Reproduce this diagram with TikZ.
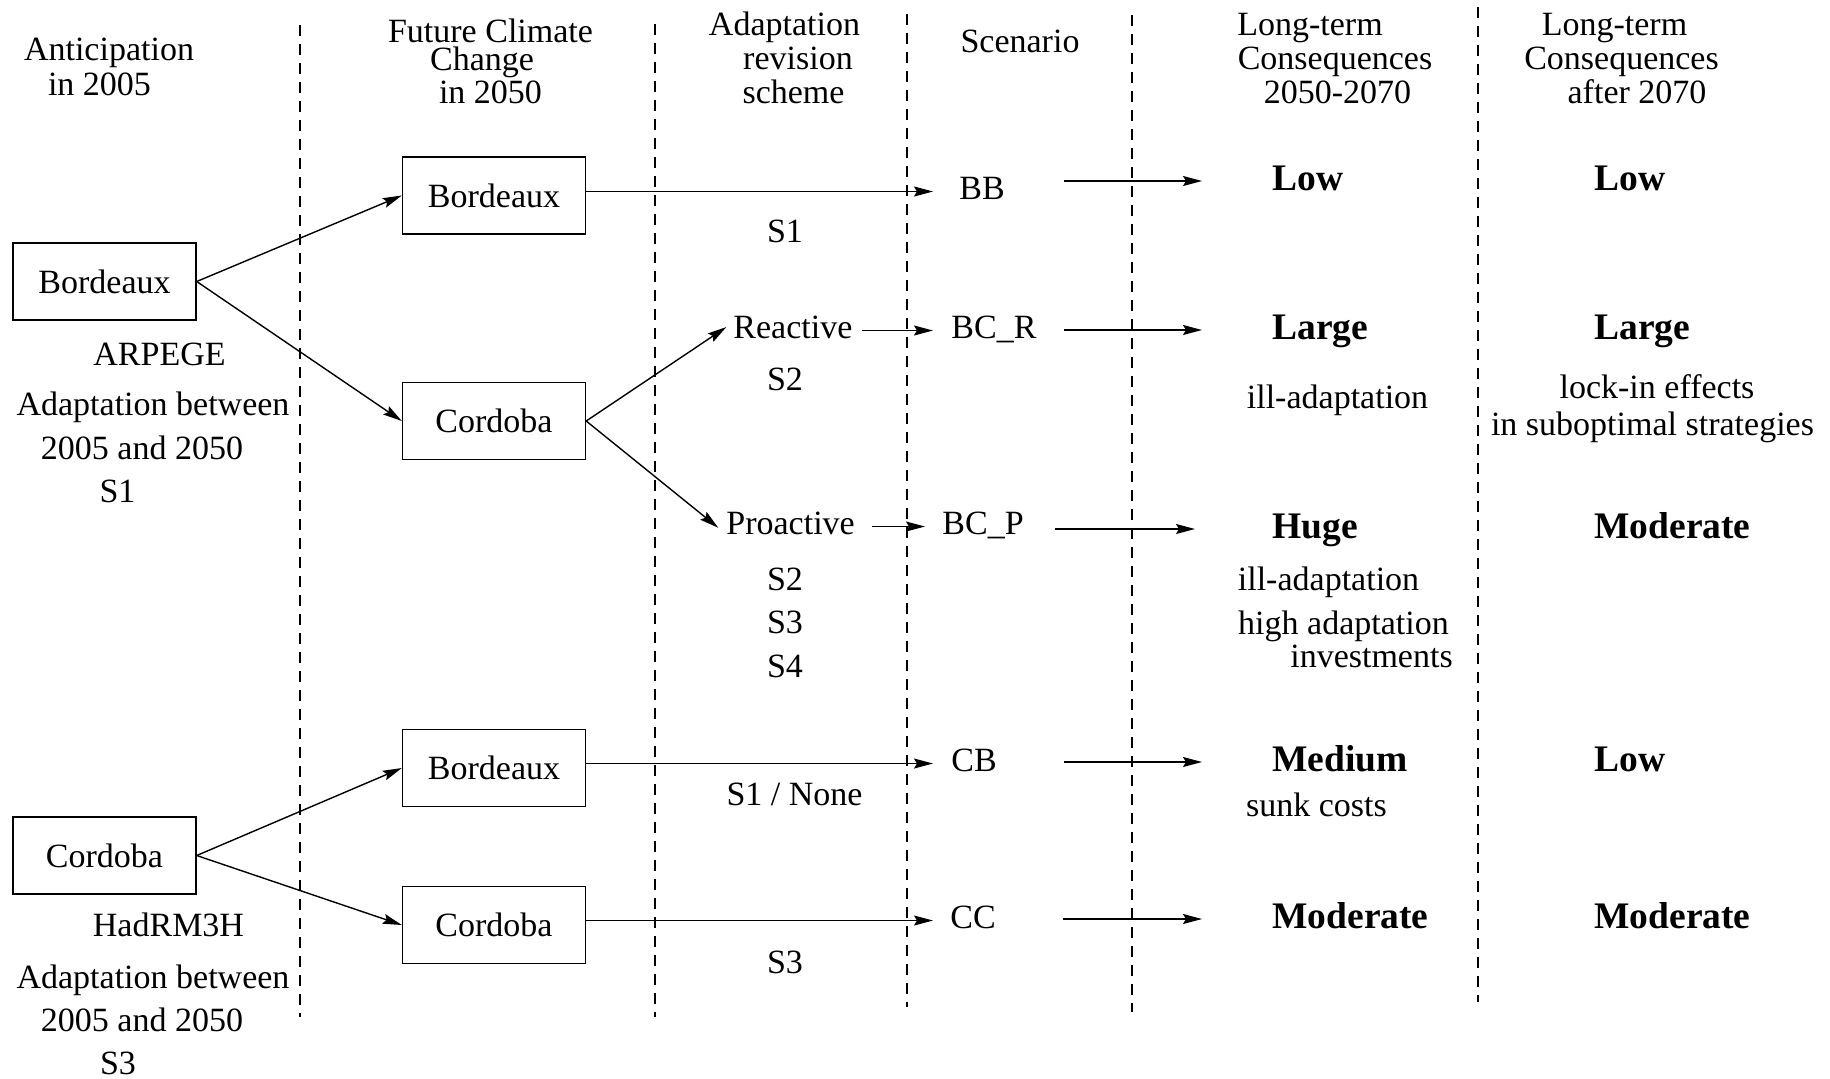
\documentclass[tikz,border=0pt]{standalone}
\usepackage{fontspec}
\setmainfont{Liberation Serif}
\usetikzlibrary{arrows.meta}
\begin{document}
\begin{tikzpicture}[x=0.5pt,y=-0.5pt,
  txt/.style={font=\fontsize{17pt}{20pt}\selectfont, inner sep=0pt, anchor=base},
  conseq/.style={font=\fontsize{18.75pt}{22pt}\selectfont\bfseries, inner sep=0pt, anchor=base west, text height=9pt, text depth=0pt},
  cbox/.style={draw, line width=0.7pt, minimum width=91.5pt, minimum height=38.5pt, inner sep=0pt, font=\fontsize{17pt}{20pt}\selectfont},
  scen/.style={font=\fontsize{17pt}{20pt}\selectfont, inner sep=0pt, anchor=base west, text height=7.5pt, text depth=0pt, text width=56pt, align=left},
  choice/.style={font=\fontsize{17pt}{20pt}\selectfont, inner sep=0pt, anchor=base west, text height=7.5pt, text depth=0pt},
  arr/.style={-{Stealth[length=9.5pt,width=5pt,inset=1.5pt]}, line width=0.7pt},
  colsep/.style={dash pattern=on 5.5pt off 4pt, line width=0.55pt}
]
\path[fill=white] (0,0) rectangle (1830,1078);

% column separators
\draw[colsep] (300,25) -- (300,1017);
\draw[colsep] (655,24) -- (655,1017);
\draw[colsep] (907,14) -- (907,1007);
\draw[colsep] (1132,15) -- (1132,1012);
\draw[colsep] (1478,7) -- (1478,1002);

% headers
\node[txt] (h1a) at (109,60) {Anticipation};
\node[txt] (h1b) at (99.5,95) {in 2005};
\node[txt] (h2a) at (490.5,42) {Future Climate};
\node[txt] (h2b) at (482,70) {Change};
\node[txt] (h2c) at (490.5,103) {in 2050};
\node[txt] (h3a) at (784.5,35) {Adaptation};
\node[txt] (h3b) at (798,69) {revision};
\node[txt] (h3c) at (793.5,103) {scheme};
\node[txt] (h4) at (1020,52) {Scenario};
\node[txt] (h5a) at (1310,35) {Long-term};
\node[txt] (h5b) at (1335,69) {Consequences};
\node[txt] (h5c) at (1337.5,103) {2050-2070};
\node[txt] (h6a) at (1614.5,35) {Long-term};
\node[txt] (h6b) at (1621.5,69) {Consequences};
\node[txt] (h6c) at (1637,103) {after 2070};

% boxes
\node[cbox] (L1) at (104.5,281.5) {Bordeaux};
\node[cbox] (L2) at (104.5,855.5) {Cordoba};
\node[cbox] (M1) at (494,195.5) {Bordeaux};
\node[cbox] (M2) at (494,421) {Cordoba};
\node[cbox] (M3) at (494,768) {Bordeaux};
\node[cbox] (M4) at (494,925) {Cordoba};

% left labels
\node[txt] (arp) at (159.5,365) {ARPEGE};
\node[txt] (ab1) at (153,415) {Adaptation between};
\node[txt] (ab1b) at (142,459) {2005 and 2050};
\node[txt] (s1l) at (117.5,502) {S1};
\node[txt] (had) at (168.5,936) {HadRM3H};
\node[txt] (ab2) at (153,988) {Adaptation between};
\node[txt] (ab2b) at (142,1031) {2005 and 2050};
\node[txt] (s3l) at (118,1074) {S3};

% revision scheme labels
\node[txt] (r1) at (785,242) {S1};
\node[txt] (r2) at (785,390) {S2};
\node[txt] (r3a) at (785,590) {S2};
\node[txt] (r3b) at (785,633) {S3};
\node[txt] (r3c) at (785,677) {S4};
\node[txt] (r4) at (794.5,805) {S1 / None};
\node[txt] (r5) at (785,973) {S3};

\node[choice] (re) at (733,338) {Reactive};
\node[choice] (pr) at (726,534) {Proactive};

% scenarios
\node[scen, text width=52pt] (bb) at (959,199) {BB};
\node[scen] (bcr) at (951,338) {BC\_R};
\node[scen] (bcp) at (942,534) {BC\_P};
\node[scen] (cb) at (951,771) {CB};
\node[scen] (cc) at (950,928) {CC};

% consequences
\node[conseq] (lo1) at (1272,190) {Low};
\node[conseq] (la1) at (1272,339) {Large};
\node[conseq] (hu1) at (1272,538) {Huge};
\node[conseq] (me1) at (1272,771) {Medium};
\node[conseq] (mo1) at (1272,928) {Moderate};
\node[conseq] (lo2) at (1594,190) {Low};
\node[conseq] (la2) at (1594,339) {Large};
\node[conseq] (mo2) at (1594,538) {Moderate};
\node[conseq] (lo3) at (1594,771) {Low};
\node[conseq] (mo3) at (1594,928) {Moderate};

\node[txt] (c1) at (1337.5,408) {ill-adaptation};
\node[txt] (c2) at (1657,398) {lock-in effects};
\node[txt] (c3) at (1652.5,435) {in suboptimal strategies};
\node[txt] (c4) at (1328.5,590) {ill-adaptation};
\node[txt] (c5) at (1343.5,634) {high adaptation};
\node[txt] (c6) at (1371.5,667) {investments};
\node[txt] (c7) at (1316.5,816) {sunk costs};

% connectors
\draw[arr] (L1.east) -- (M1.west);
\draw[arr] (L1.east) -- (M2.west);
\draw[arr] (L2.east) -- (M3.west);
\draw[arr] (L2.east) -- (M4.west);
\draw[arr, shorten >=13pt] (M1.east |- bb.west) -- (bb.west);
\draw[arr, shorten >=4pt] (M2.east) -- (re.north west);
\draw[arr, shorten >=5pt] (M2.east) -- (pr.base west);
\draw[arr, shorten <=4.5pt, shorten >=9pt] (re.east) -- (bcr.west);
\draw[arr, shorten <=8.5pt, shorten >=8.5pt] (pr.east) -- (bcp.west);
\draw[arr, shorten >=9pt] (M3.east |- cb.west) -- (cb.west);
\draw[arr, shorten >=8.5pt] (M4.east |- cc.west) -- (cc.west);
\draw[arr, shorten >=35pt] (bb.east |- lo1.west) -- (lo1.west);
\draw[arr, shorten >=35pt] (bcr.east |- la1.west) -- (la1.west);
\draw[arr, shorten >=38.5pt] (bcp.east |- hu1.west) -- (hu1.west);
\draw[arr, shorten >=35pt] (cb.east |- me1.west) -- (me1.west);
\draw[arr, shorten >=35pt] (cc.east |- mo1.west) -- (mo1.west);
\end{tikzpicture}
\end{document}
